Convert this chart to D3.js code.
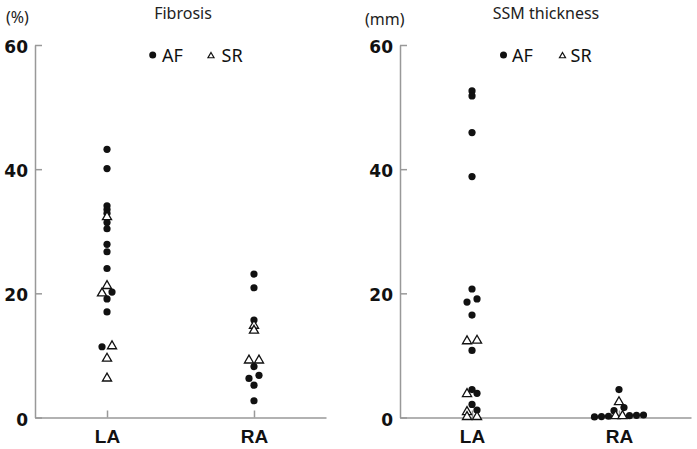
<!DOCTYPE html>
<html>
<head>
<meta charset="utf-8">
<script src="https://cdn.jsdelivr.net/npm/d3@7"></script>
<style>
  body { margin: 0; background: #fff; }
  svg { display: block; }
</style>
</head>
<body>
<script>
// categories and ticks
const cats = ["LA", "RA"];
const yTicks = [0, 20, 40, 60];

// Fibrosis (%)
const fibLA_AF = [43.2, 40.1, 34.1, 33.5, 32.9, 31.4, 30.4, 27.9, 26.7, 24.0, 20.2, 19.1, 17.0, 11.4];
const fibLA_SR = [32.3, 21.2, 20.0, 11.5, 9.5, 6.3];
const fibRA_AF = [23.1, 20.9, 15.7, 8.2, 6.8, 6.3, 5.2, 2.7];
const fibRA_SR = [14.8, 14.0, 9.2, 9.2];

// SSM thickness (mm)
const ssmLA_AF = [52.6, 51.8, 45.9, 38.8, 20.7, 19.1, 18.6, 16.5, 10.8, 4.5, 3.9, 2.1, 1.2];
const ssmLA_SR = [12.4, 12.3, 3.8, 0.9, 0.1, 0.1];
const ssmRA_AF = [4.5, 1.6, 1.1, 0.4, 0.35, 0.3, 0.2, 0.15, 0.1];
const ssmRA_SR = [2.5, 0.25, 0.25];

const width = 697, height = 449;

const svg = d3.select("body").append("svg")
    .attr("width", width)
    .attr("height", height);

const y = d3.scaleLinear().domain([0, 60]).range([417.5, 45]);

// spread points that sit at (almost) the same height side by side
function dodge(af, sr) {
    const pts = af.map(v => ({v, s: "AF"})).concat(sr.map(v => ({v, s: "SR"})));
    pts.sort((a, b) => b.v - a.v);
    let i = 0;
    while (i < pts.length) {
        let j = i + 1;
        while (j < pts.length && pts[i].v - pts[j].v < 0.55) j++;
        const cl = pts.slice(i, j).sort((a, b) => a.v - b.v);
        const n = cl.length, sp = n <= 2 ? 10 : 7;
        cl.forEach((p, k) => p.dx = (k - (n - 1) / 2) * sp);
        i = j;
    }
    return pts;
}

const panels = [
    {x0: 35, x1: 326, title: "Fibrosis", titleX: 183, unit: "(%)", unitX: 6, unitY: 23,
     groups: [["LA", fibLA_AF, fibLA_SR], ["RA", fibRA_AF, fibRA_SR]],
     leg: {dot: 152.7, af: 162, tri: 211, sr: 221.5}},
    {x0: 400, x1: 691, title: "SSM thickness", titleX: 546, unit: "(mm)", unitX: 365, unitY: 25,
     groups: [["LA", ssmLA_AF, ssmLA_SR], ["RA", ssmRA_AF, ssmRA_SR]],
     leg: {dot: 503.5, af: 512, tri: 562.5, sr: 570.5}}
];

const tri = d3.symbol(d3.symbolTriangle);

panels.forEach(p => {
    const g = svg.append("g");
    const x = d3.scalePoint().domain(cats).range([p.x0, p.x1]).padding(0.49);

    // y axis
    const ya = g.append("g")
        .attr("transform", `translate(${p.x0},0)`)
        .call(d3.axisLeft(y).tickValues(yTicks).tickSizeInner(-7).tickSizeOuter(0).tickPadding(7));
    ya.selectAll(".tick text")
        .attr("dy", "0.45em")
        .attr("font-family", "DejaVu Sans")
        .attr("font-weight", "bold")
        .attr("font-size", 17)
        .attr("fill", "#111");

    // x axis
    const xa = g.append("g")
        .attr("transform", `translate(0,${y(0)})`)
        .call(d3.axisBottom(x).tickSizeInner(-7).tickSizeOuter(0).tickPadding(12.5));
    xa.selectAll(".tick text")
        .attr("font-family", "'Liberation Sans Narrow', 'Liberation Sans'")
        .attr("font-weight", "bold")
        .attr("font-size", 19)
        .attr("fill", "#111");

    g.selectAll(".domain, .tick line").attr("stroke", "#999").attr("stroke-width", 1.5);

    // titles
    g.append("text")
        .attr("x", p.titleX).attr("y", 19)
        .attr("text-anchor", "middle")
        .attr("font-family", "Noto Sans").attr("font-size", 16).attr("fill", "#222")
        .text(p.title);
    g.append("text")
        .attr("x", p.unitX).attr("y", p.unitY)
        .attr("font-family", "Noto Sans").attr("font-size", 16).attr("fill", "#222")
        .text(p.unit);

    // legend
    g.append("circle").attr("cx", p.leg.dot).attr("cy", 55).attr("r", 3.5).attr("fill", "#111");
    g.append("text").attr("x", p.leg.af).attr("y", 61.5)
        .attr("font-family", "Noto Sans").attr("font-size", 18).attr("fill", "#111").text("AF");
    g.append("path").attr("d", tri.size(16)())
        .attr("transform", `translate(${p.leg.tri},56)`)
        .attr("fill", "#fff").attr("stroke", "#111").attr("stroke-width", 1.2);
    g.append("text").attr("x", p.leg.sr).attr("y", 61.5)
        .attr("font-family", "Noto Sans").attr("font-size", 18).attr("fill", "#111").text("SR");

    // points
    p.groups.forEach(([cat, af, sr]) => {
        const pts = dodge(af, sr);
        g.append("g").selectAll("circle")
            .data(pts.filter(d => d.s === "AF"))
            .join("circle")
                .attr("cx", d => x(cat) + d.dx)
                .attr("cy", d => y(d.v))
                .attr("r", 3.6)
                .attr("fill", "#111");
        g.append("g").selectAll("path")
            .data(pts.filter(d => d.s === "SR"))
            .join("path")
                .attr("d", tri.size(36)())
                .attr("transform", d => `translate(${x(cat) + d.dx},${y(d.v)})`)
                .attr("fill", "#fff")
                .attr("stroke", "#111")
                .attr("stroke-width", 1.3);
    });
});
</script>
</body>
</html>
